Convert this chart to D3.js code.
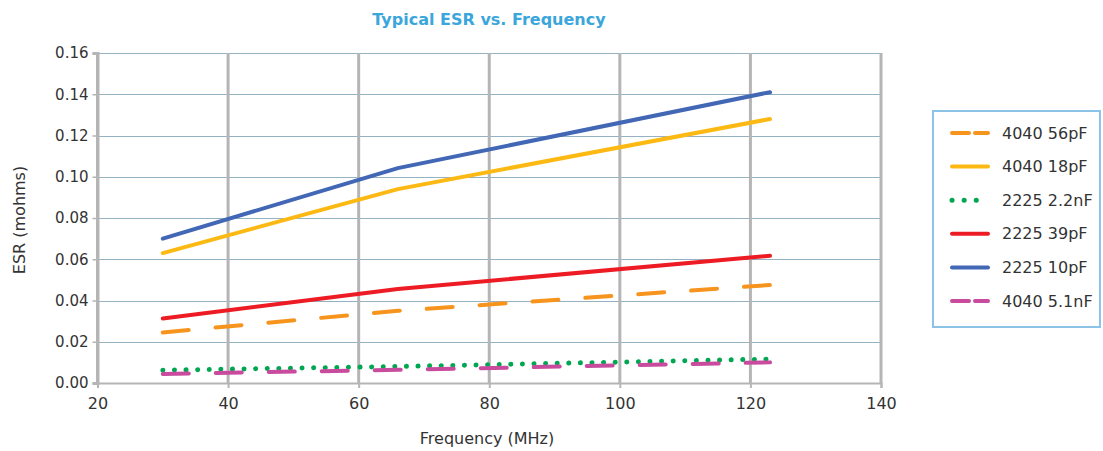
<!DOCTYPE html>
<html><head><meta charset="utf-8">
<script src="https://cdn.jsdelivr.net/npm/d3@7"></script>
<style>body{margin:0;background:#fff}svg{display:block}text{font-family:"DejaVu Sans",sans-serif;fill:#333}</style>
</head><body><svg id="c" width="1103" height="451"></svg>
<script>
const freqs = [30, 66, 123];
const seriesNames = ["4040 56pF","4040 18pF","2225 2.2nF","2225 39pF","2225 10pF","4040 5.1nF"];
const s4040_56pF = [0.0245, 0.0350, 0.0475];
const s4040_18pF = [0.063, 0.094, 0.128];
const s2225_2_2nF = [0.0062, 0.0080, 0.0116];
const s2225_39pF = [0.0313, 0.0456, 0.0617];
const s2225_10pF = [0.0700, 0.1042, 0.1410];
const s4040_5_1nF = [0.0044, 0.0064, 0.0100];
const seriesValues = [s4040_56pF, s4040_18pF, s2225_2_2nF, s2225_39pF, s2225_10pF, s4040_5_1nF];
const colors = ["#f7941d","#fdb913","#00a651","#ed1c24","#4167b5","#c84b9e"];
const styles = ["dash","solid","dot","solid","solid","dash"];
const xTicks = [20,40,60,80,100,120,140];
const yTicks = [0,0.02,0.04,0.06,0.08,0.10,0.12,0.14,0.16];

const svg = d3.select("#c");
const x = d3.scaleLinear().domain([20,140]).range([97.5,881]);
const y = d3.scaleLinear().domain([0,0.16]).range([383,53]);

// horizontal gridlines
svg.append("g").selectAll("line").data(yTicks.slice(1)).join("line")
  .attr("x1",x(20)).attr("x2",x(140)).attr("y1",d=>Math.round(y(d))+0.5).attr("y2",d=>Math.round(y(d))+0.5)
  .attr("stroke","#94b2c2").attr("stroke-width",1);
// vertical gridlines
svg.append("g").selectAll("line").data(xTicks).join("line")
  .attr("x1",d=>x(d)).attr("x2",d=>x(d)).attr("y1",y(0.16)).attr("y2",y(0))
  .attr("stroke","#b5b5b5").attr("stroke-width",3);

// axes
const xAxis = d3.axisBottom(x).tickValues(xTicks).tickSize(5).tickPadding(10).tickFormat(d3.format("d"));
const gx = svg.append("g").attr("transform",`translate(0,${y(0)})`).call(xAxis);
gx.select(".domain").attr("stroke","#b5b5b5").attr("stroke-width",2);
gx.selectAll(".tick line").attr("stroke","#b5b5b5").attr("stroke-width",2);
gx.selectAll("text").attr("font-size",16).attr("fill","#333");
const yAxis = d3.axisLeft(y).tickValues(yTicks).tickSize(5).tickPadding(4).tickFormat(d3.format(".2f"));
const gy = svg.append("g").attr("transform",`translate(${x(20)},0)`).call(yAxis);
gy.select(".domain").attr("stroke","#b5b5b5").attr("stroke-width",3);
gy.selectAll(".tick line").attr("stroke","#b5b5b5").attr("stroke-width",1.5);
gy.selectAll("text").attr("font-size",15).attr("fill","#333");
svg.selectAll(".domain").attr("fill","none");

// lines
const line = d3.line().x(d=>x(d[0])).y(d=>y(d[1]));
const dashFor = s => s==="dash" ? "26,27" : s==="dot" ? "0.1,11.5" : null;
seriesValues.forEach((vals,i)=>{
  svg.append("path").datum(freqs.map((f,j)=>[f,vals[j]]))
    .attr("d",line).attr("fill","none").attr("stroke",colors[i])
    .attr("stroke-width",styles[i]==="dot"?5:4).attr("stroke-linecap","round").attr("stroke-linejoin","round")
    .attr("stroke-dasharray",dashFor(styles[i]));
});

// titles
svg.append("text").attr("x",489).attr("y",25).attr("text-anchor","middle")
  .attr("font-size",16).attr("font-weight","bold").style("fill","#3ba6dc").text("Typical ESR vs. Frequency");
svg.append("text").attr("x",487).attr("y",444).attr("text-anchor","middle").attr("font-size",16).text("Frequency (MHz)");
svg.append("text").attr("transform","translate(25,220) rotate(-90)").attr("text-anchor","middle").attr("font-size",16).text("ESR (mohms)");

// legend
svg.append("rect").attr("x",933).attr("y",111).attr("width",167).attr("height",216)
  .attr("fill","#fff").attr("stroke","#8cc3e8").attr("stroke-width",2);
const legDash = s => s==="dash" ? "17,6" : s==="dot" ? "0.1,12" : null;
seriesNames.forEach((n,i)=>{
  const yy = 133 + i*33.6;
  svg.append("line").attr("x1",952).attr("x2",988).attr("y1",yy).attr("y2",yy)
    .attr("stroke",colors[i]).attr("stroke-width",styles[i]==="dot"?5:4).attr("stroke-linecap","round")
    .attr("stroke-dasharray",legDash(styles[i]));
  svg.append("text").attr("x",1002).attr("y",yy+5.5).attr("font-size",16).text(n);
});
</script></body></html>
